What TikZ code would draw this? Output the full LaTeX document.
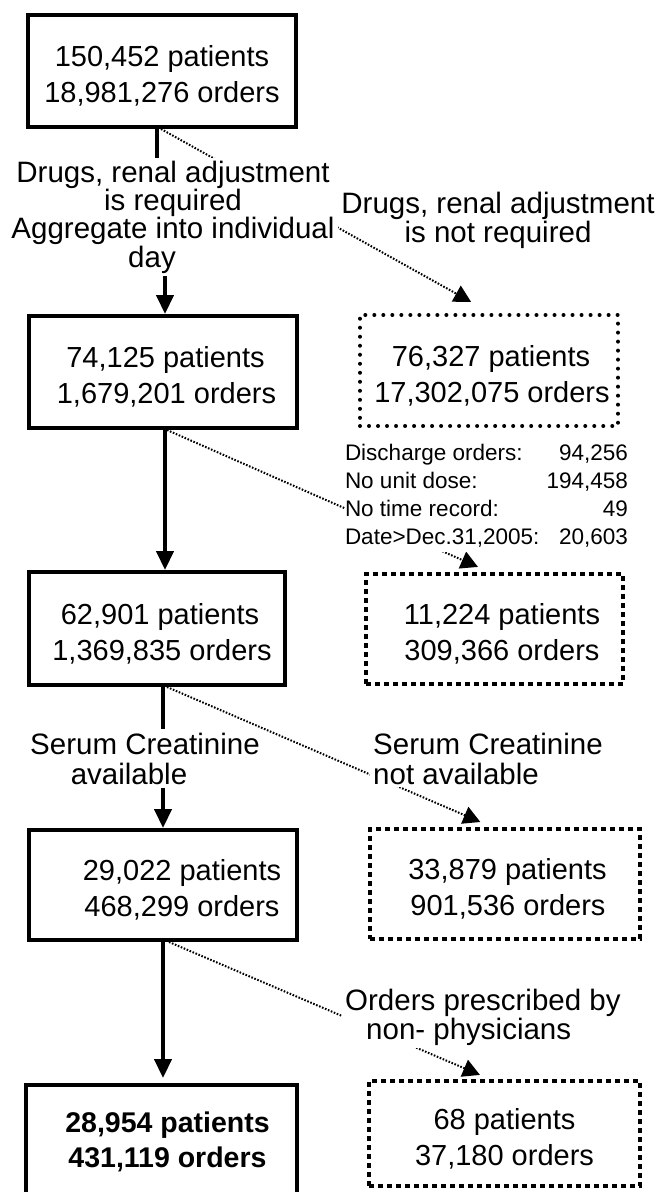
\documentclass[tikz,border=0pt]{standalone}
\usepackage{fontspec}
\setmainfont{Liberation Sans}
\usetikzlibrary{arrows.meta}
\pgfdeclarelayer{back}
\pgfdeclarelayer{lines}
\pgfsetlayers{back,lines,main}
\tikzset{
  boxtext/.style={font=\fontsize{29}{36}\selectfont, align=center, text height=67pt, inner sep=0pt},
  solidbox/.style={boxtext, draw, line width=4pt},
  roundbox/.style={boxtext, draw, line width=4pt, dash pattern=on 0.01pt off 9pt, line cap=round},
  squarebox/.style={boxtext, draw, line width=4pt, dash pattern=on 5pt off 4pt},
  lbl/.style={font=\fontsize{29.5}{28.3}\selectfont, inner sep=3pt},
  sline/.style={line width=4.5pt},
  sarrow/.style={line width=4.5pt, -{Triangle[length=19pt,width=17pt]}},
  dline/.style={line width=2pt, dash pattern=on 1.6pt off 1.6pt, -{Triangle[length=17pt,width=18pt]}}
}
\begin{document}
\begin{tikzpicture}[x=1pt,y=-1pt]
\useasboundingbox (0,0) rectangle (668,1192);
\begin{pgfonlayer}{back}
\fill[white] (0,0) rectangle (668,1192);
\end{pgfonlayer}
\clip (0,0) rectangle (668,1192);

% main column
\node[solidbox, minimum width=268pt, minimum height=112pt] (b1) at (162,71) {150,452 patients\\18,981,276 orders};
\node[solidbox, minimum width=268pt, minimum height=112pt] (b2) at (163,372) {\hspace*{5pt}74,125 patients\\\hspace*{7pt}1,679,201 orders};
\node[solidbox, minimum width=256pt, minimum height=113pt] (b3) at (157,628.5) {\hspace*{6pt}62,901 patients\\\hspace*{10pt}1,369,835 orders};
\node[solidbox, minimum width=268pt, minimum height=110pt] (b4) at (163,885) {\hspace*{38pt}29,022 patients\\\hspace*{38pt}468,299 orders};
\node[solidbox, minimum width=271pt, minimum height=113pt, text height=, font=\fontsize{28.5}{35}\selectfont\bfseries] (b5) at (161.5,1141.5) {\hspace*{12pt}28,954 patients\\\hspace*{12pt}431,119 orders};

% excluded column
\node[roundbox, minimum width=258pt, minimum height=111pt] (d1) at (489,370.5) {\hspace*{4pt}76,327 patients\\\hspace*{6pt}17,302,075 orders};
\node[squarebox, minimum width=257pt, minimum height=110pt] (d2) at (494.5,629) {\hspace*{15pt}11,224 patients\\\hspace*{15pt}309,366 orders};
\node[squarebox, minimum width=270pt, minimum height=110pt] (d3) at (505,884) {\hspace*{5pt}33,879 patients\\\hspace*{6pt}901,536 orders};
\node[squarebox, minimum width=271pt, minimum height=105pt] (d4) at (504.5,1133.5) {68 patients\\37,180 orders};

% labels
\node[lbl, align=center, fill=white] (l1) at (173,217) {Drugs, renal adjustment\\is required\hspace*{18pt}\\Aggregate into individual\\day\hspace*{42pt}};
\node[lbl, align=center] (r1) at (498,220.5) {Drugs, renal adjustment\\is not required};
\node[fill=white, inner sep=0pt, font=\fontsize{22.5}{28}\selectfont] (ex) at (486.5,496.4) {%
\begin{tabular*}{283pt}{@{}l@{\extracolsep{\fill}}r@{}}
Discharge orders: & 94,256\\
No unit dose: & 194,458\\
No time record: & 49\\
Date>Dec.31,2005: & 20,603
\end{tabular*}};
\node[lbl, align=center, font=\fontsize{29.5}{30}\selectfont] (l3) at (145,758.5) {Serum Creatinine\\available\hspace*{32pt}};
\node[lbl, align=left, fill=white, anchor=west, font=\fontsize{29.5}{30}\selectfont] (r3) at (370,758.5) {Serum Creatinine\\not available};
\node[lbl, align=left, fill=white, anchor=west] (r4) at (342,1017.5) {Orders prescribed by\\\hspace*{21pt}non- physicians};

% dotted connectors, behind the white-filled labels
\begin{pgfonlayer}{lines}
\draw[dline, shorten >=22.8pt] ([xshift=-1pt]b1.south) -- ([xshift=2pt]d1.north);
\draw[dline, shorten >=12.6pt] ([xshift=4pt]b2.south) -- ([xshift=-5pt]d2.north);
\draw[dline, shorten >=12.7pt] ([xshift=10pt]b3.south) -- ([xshift=-13pt]d3.north);
\draw[dline, shorten >=10.4pt] ([xshift=6pt]b4.south) -- ([xshift=-15pt]d4.north);
\end{pgfonlayer}

% solid connectors
\draw[sline] ([xshift=-5pt]b1.south) -- ([xshift=-5pt]b1.south |- l1.north);
\draw[sarrow] ([xshift=2pt]b2.north |- l1.south) -- ([xshift=2pt]b2.north);
\draw[sarrow] ([xshift=2pt]b2.south) -- ([xshift=2pt]b2.south |- b3.north);
\draw[sline] ([xshift=6pt]b3.south) -- ([xshift=6pt]b3.south |- l3.north);
\draw[sarrow] ([xshift=6pt]b3.south |- l3.south) -- ([xshift=6pt]b3.south |- b4.north);
\draw[sarrow, shorten >=5pt] (b4.south) -- (b4.south |- b5.north);
\end{tikzpicture}
\end{document}
